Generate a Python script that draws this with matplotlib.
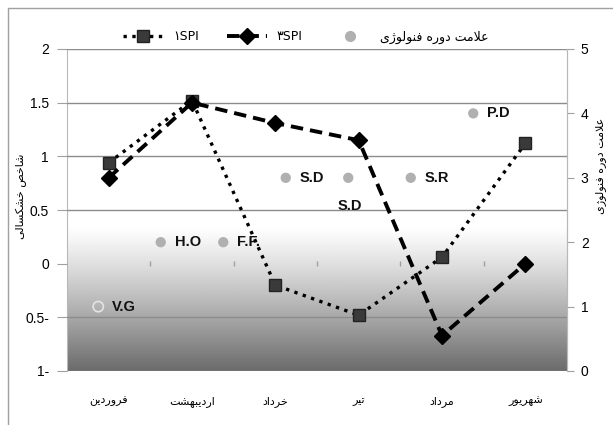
import numpy as np
import matplotlib
matplotlib.use("Agg")
import matplotlib.pyplot as plt
from matplotlib.lines import Line2D
from matplotlib.patches import Rectangle

plt.rcParams['font.family'] = ['DejaVu Sans']

# Persian letters -> presentation forms (isolated, final, initial, medial)
FORMS = {
    'ا': ('\uFE8D', '\uFE8E', None, None),
    'ب': ('\uFE8F', '\uFE90', '\uFE91', '\uFE92'),
    'ت': ('\uFE95', '\uFE96', '\uFE97', '\uFE98'),
    'خ': ('\uFEA5', '\uFEA6', '\uFEA7', '\uFEA8'),
    'د': ('\uFEA9', '\uFEAA', None, None),
    'ر': ('\uFEAD', '\uFEAE', None, None),
    'ز': ('\uFEAF', '\uFEB0', None, None),
    'ژ': ('\uFB8A', '\uFB8B', None, None),
    'س': ('\uFEB1', '\uFEB2', '\uFEB3', '\uFEB4'),
    'ش': ('\uFEB5', '\uFEB6', '\uFEB7', '\uFEB8'),
    'ص': ('\uFEB9', '\uFEBA', '\uFEBB', '\uFEBC'),
    'ع': ('\uFEC9', '\uFECA', '\uFECB', '\uFECC'),
    'ف': ('\uFED1', '\uFED2', '\uFED3', '\uFED4'),
    '\u06A9': ('\uFB8E', '\uFB8F', '\uFB90', '\uFB91'),
    'ل': ('\uFEDD', '\uFEDE', '\uFEDF', '\uFEE0'),
    'م': ('\uFEE1', '\uFEE2', '\uFEE3', '\uFEE4'),
    'ن': ('\uFEE5', '\uFEE6', '\uFEE7', '\uFEE8'),
    'ه': ('\uFEE9', '\uFEEA', '\uFEEB', '\uFEEC'),
    'و': ('\uFEED', '\uFEEE', None, None),
    '\u06CC': ('\uFBFC', '\uFBFD', '\uFBFE', '\uFBFF'),
}


def fa(text):
    """Shape Persian text and put it in visual (left-to-right) order."""
    chars = list(text.replace('\u064A', '\u06CC').replace('\u0643', '\u06A9'))
    out = []
    i = 0
    while i < len(chars):
        c = chars[i]
        if c not in FORMS:
            out.append(c)
            i += 1
            continue
        prev = chars[i - 1] if i > 0 else None
        joins_prev = prev in FORMS and FORMS[prev][2] is not None
        if c == 'ل' and i + 1 < len(chars) and chars[i + 1] == 'ا':
            out.append('\uFEFC' if joins_prev else '\uFEFB')
            i += 2
            continue
        nxt = chars[i + 1] if i + 1 < len(chars) else None
        joins_next = FORMS[c][2] is not None and nxt in FORMS
        iso, fin, ini, med = FORMS[c]
        if joins_prev and joins_next:
            out.append(med)
        elif joins_prev:
            out.append(fin)
        elif joins_next:
            out.append(ini)
        else:
            out.append(iso)
        i += 1
    return ''.join(reversed(out))


# data
months = ['فروردین', 'اردیبهشت', 'خرداد', 'تیر', 'مرداد', 'شهریور']
spi1 = [0.94, 1.52, -0.20, -0.48, 0.06, 1.12]
spi3 = [0.80, 1.50, 1.31, 1.15, -0.67, 0.00]

pheno_values = [1, 2, 2, 3, 3, 3, 4]
pheno_labels = ['V.G', 'H.O', 'F.F.', 'S.D', 'S.D', 'S.R', 'P.D']
pheno_slots = 8

left_ticks = [-1, -0.5, 0, 0.5, 1, 1.5, 2]
left_ticklabels = ['1-', '0.5-', '0', '0.5', '1', '1.5', '2']
right_ticks = [0, 1, 2, 3, 4, 5]

fig = plt.figure(figsize=(6.13, 4.25), dpi=100)
ax = fig.add_axes([67 / 613, 1 - 371 / 425, 500 / 613, 322 / 425])

# outer chart border
fig.patches.append(Rectangle((8 / 613, -0.1), 1.2, 1 - 8 / 425 + 0.1,
                             transform=fig.transFigure, fill=False,
                             edgecolor='#a0a0a0', lw=1))

x = np.arange(len(months))
ax.set_xlim(-0.5, len(months) - 0.5)
ax.set_ylim(-1, 2)

# background gradient (white in the upper part, darkening towards the bottom)
yy = np.linspace(-1, 2, 400)
t = np.clip((0.35 - yy) / 1.35, 0, 1)
shade = 1 - 0.58 * t ** 1.15
ax.imshow(shade[:, None], extent=(-0.5, len(months) - 0.5, -1, 2), origin='lower',
          aspect='auto', cmap='gray', vmin=0, vmax=1, zorder=0)

ax.set_yticks(left_ticks)
ax.set_yticklabels(left_ticklabels, fontsize=10, family='Liberation Sans')
ax.yaxis.grid(True, color='#8c8c8c', lw=1)
ax.set_axisbelow(False)
ax.get_ygridlines()[2].set_visible(False)
for gl in ax.get_ygridlines():
    gl.set_zorder(1)
ax.tick_params(axis='y', length=7, color='#a0a0a0', pad=6)

ax.set_xticks(x)
ax.set_xticklabels([fa(m) for m in months], fontsize=8)
ax.tick_params(axis='x', length=0, pad=18)

for s in ['top', 'bottom']:
    ax.spines[s].set_visible(False)
for s in ['left', 'right']:
    ax.spines[s].set_color('#b8b8b8')

# small category separators on the zero line
ax.vlines(np.arange(1, len(months)) - 0.5, -0.025, 0.025, color='#a0a0a0', lw=1, zorder=2)

ax.plot(x, spi1, color='black', ls=':', lw=2.4, marker='s', markersize=8,
        markerfacecolor='#3a3a3a', markeredgecolor='#222222', zorder=3)
ax.plot(x, spi3, color='black', ls=(0, (3.2, 1.8)), lw=2.8, marker='D', markersize=8,
        markerfacecolor='black', markeredgecolor='black', zorder=4)

# right axis: phenology stages
ax2 = ax.twinx()
ax2.set_ylim(0, 5)
ax2.set_yticks(right_ticks)
ax2.set_yticklabels([str(v) for v in right_ticks], fontsize=10, family='Liberation Sans')
ax2.tick_params(axis='y', length=5, color='#a0a0a0', pad=5)
for s in ['top', 'bottom', 'left']:
    ax2.spines[s].set_visible(False)
ax2.spines['right'].set_color('#b8b8b8')

ax3 = ax2.twiny()
ax3.set_xlim(-0.5, pheno_slots - 0.5)
ax3.set_xticks([])
for s in ax3.spines.values():
    s.set_visible(False)

px = np.arange(len(pheno_values))
ax3.scatter(px[1:], pheno_values[1:], s=55, color='#b0b0b0', edgecolors='none', zorder=5)
ax3.scatter(px[:1], pheno_values[:1], s=55, facecolors='none', edgecolors='#e4e4e4',
            lw=1.2, zorder=5)
for i, (v, lab) in enumerate(zip(pheno_values, pheno_labels)):
    if i == 4:
        off, ha = (1, -20), 'center'
    else:
        off, ha = (10, 0), 'left'
    ax3.annotate(lab, (px[i], v), xytext=off, textcoords='offset points',
                 ha=ha, va='center', fontsize=10.5, fontweight='bold',
                 family=['Liberation Sans', 'DejaVu Sans'], color='#111111')

# axis titles
fig.text(21 / 613, 1 - 196 / 425, fa('شاخص خشکسالی'), rotation=90,
         ha='center', va='center', fontsize=8)
fig.text(601 / 613, 1 - 166 / 425, fa('علامت دوره فنولوژی'), rotation=90,
         ha='center', va='center', fontsize=8)

# legend
handles = [
    Line2D([], [], color='black', ls=':', lw=2.4, marker='s', markersize=8,
           markerfacecolor='#3a3a3a', markeredgecolor='#222222'),
    Line2D([], [], color='black', ls=(0, (3.2, 1.8)), lw=2.8, marker='D', markersize=8,
           markerfacecolor='black'),
    Line2D([], [], ls='none', marker='o', markersize=7, color='#b0b0b0'),
]
labels = ['۱SPI', '۳SPI', fa('علامت دوره فنولوژی')]
fig.legend(handles, labels, loc='center', bbox_to_anchor=(306 / 613, 1 - 37 / 425),
           ncol=3, frameon=False, fontsize=9, handlelength=3.2, columnspacing=2.2,
           handletextpad=0.8)

fig.savefig('out.png', dpi=100)
